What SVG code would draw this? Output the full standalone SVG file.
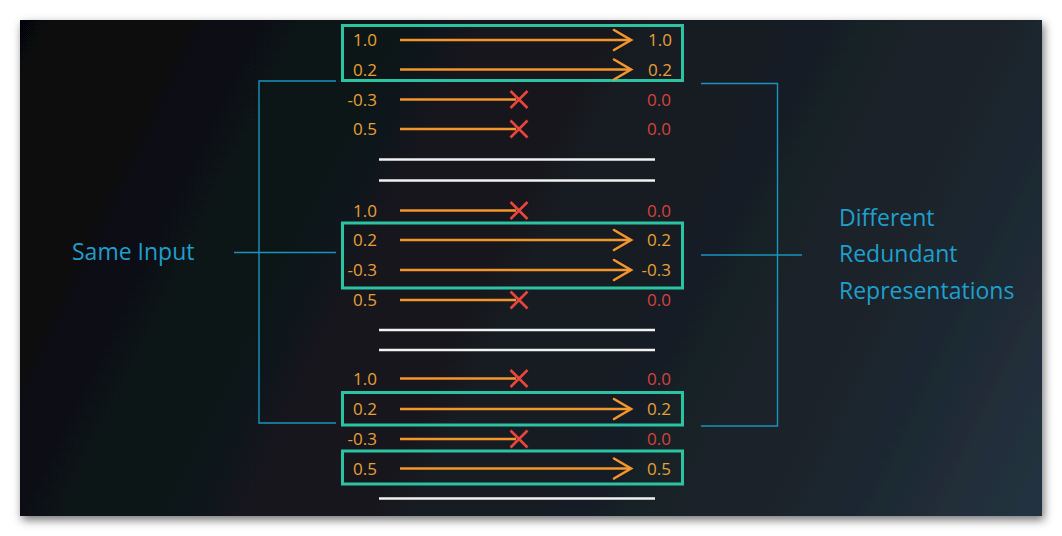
<svg xmlns="http://www.w3.org/2000/svg" width="1062" height="536" viewBox="0 0 1062 536">
<defs>
<linearGradient id="bg" gradientUnits="userSpaceOnUse" x1="20" y1="20" x2="1042" y2="516">
<stop offset="0" stop-color="#060607"/>
<stop offset="0.19" stop-color="#0e1115"/>
<stop offset="0.5" stop-color="#151a20"/>
<stop offset="0.81" stop-color="#1c252d"/>
<stop offset="1" stop-color="#243341"/>
</linearGradient>
<filter id="sh" x="-5%" y="-5%" width="110%" height="115%">
<feDropShadow dx="2" dy="4" stdDeviation="5" flood-color="#000" flood-opacity="0.55"/>
</filter>
<marker id="chev" markerUnits="userSpaceOnUse" viewBox="-20 -13 23 26" refX="0" refY="0" markerWidth="23" markerHeight="26" orient="auto">
<path d="M-17,-10 L0,0 L-17,10" fill="none" stroke="#f5962c" stroke-width="2.6" stroke-linecap="round" stroke-linejoin="miter"/>
</marker>
<path id="xm" d="M-8.5,-8.5 L8.5,8.5 M-8.5,8.5 L8.5,-8.5" fill="none" stroke="#e8453c" stroke-width="2.6"/>
</defs>
<style>
.num{font-family:"Open Sans","Liberation Sans",sans-serif;font-size:17px;fill:#e8a038}
.l{text-anchor:end}
.red{fill:#d8423c}
.lbl{font-family:"Open Sans","Liberation Sans",sans-serif;font-size:23px;fill:#1f9fcc}
.arr{stroke:#f5962c;stroke-width:2.6;fill:none}
.box{fill:none;stroke:#2cc3a3;stroke-width:3}
.sep{stroke:#f2f2f2;stroke-width:2.5}
.br{fill:none;stroke:#1a93bd;stroke-width:1.4}
</style>
<rect width="1062" height="536" fill="#ffffff"/>
<rect x="20" y="20" width="1022" height="496" fill="url(#bg)" filter="url(#sh)"/>

<g id="connectors">
<path class="br" d="M336,81 H259 V423 H336 M234,252.5 H336"/>
<path class="br" d="M701,83.5 H777.5 V426 H701 M701,255 H802"/>
</g>

<g id="label-same-input">
<text class="lbl" x="72" y="259.5">Same Input</text>
</g>
<g id="label-different">
<text class="lbl" x="839" y="225.5">Different</text>
<text class="lbl" x="839" y="262">Redundant</text>
<text class="lbl" x="839" y="298.5">Representations</text>
</g>

<g id="set1">
<rect class="box" x="342.5" y="25.5" width="340" height="55"/>
<text class="num l" x="377" y="46">1.0</text><line class="arr" x1="400" y1="40" x2="631" y2="40" marker-end="url(#chev)"/><text class="num l" x="672" y="46">1.0</text>
<text class="num l" x="377" y="75.5">0.2</text><line class="arr" x1="400" y1="69.5" x2="631" y2="69.5" marker-end="url(#chev)"/><text class="num l" x="672" y="75.5">0.2</text>
<text class="num l" x="377" y="105.5">-0.3</text><line class="arr" x1="400" y1="99.5" x2="516" y2="99.5"/><use href="#xm" x="519" y="99.5"/><text class="num l red" x="671" y="105.5">0.0</text>
<text class="num l" x="377" y="135">0.5</text><line class="arr" x1="400" y1="129" x2="516" y2="129"/><use href="#xm" x="519" y="129"/><text class="num l red" x="671" y="135">0.0</text>
<line class="sep" x1="379" y1="159.5" x2="655" y2="159.5"/>
<line class="sep" x1="379" y1="180.5" x2="655" y2="180.5"/>
</g>

<g id="set2">
<rect class="box" x="342.5" y="223" width="340" height="65"/>
<text class="num l" x="377" y="216.5">1.0</text><line class="arr" x1="400" y1="210.5" x2="516" y2="210.5"/><use href="#xm" x="519" y="210.5"/><text class="num l red" x="671" y="216.5">0.0</text>
<text class="num l" x="377" y="246">0.2</text><line class="arr" x1="400" y1="240" x2="631" y2="240" marker-end="url(#chev)"/><text class="num l" x="671" y="246">0.2</text>
<text class="num l" x="377" y="276">-0.3</text><line class="arr" x1="400" y1="270" x2="631" y2="270" marker-end="url(#chev)"/><text class="num l" x="671" y="276">-0.3</text>
<text class="num l" x="377" y="306">0.5</text><line class="arr" x1="400" y1="300" x2="516" y2="300"/><use href="#xm" x="519" y="300"/><text class="num l red" x="671" y="306">0.0</text>
<line class="sep" x1="379" y1="330" x2="655" y2="330"/>
<line class="sep" x1="379" y1="350" x2="655" y2="350"/>
</g>

<g id="set3">
<rect class="box" x="342.5" y="392.5" width="340" height="32.5"/>
<rect class="box" x="342.5" y="451" width="340" height="33"/>
<text class="num l" x="377" y="384.5">1.0</text><line class="arr" x1="400" y1="378.5" x2="516" y2="378.5"/><use href="#xm" x="519" y="378.5"/><text class="num l red" x="671" y="384.5">0.0</text>
<text class="num l" x="377" y="415">0.2</text><line class="arr" x1="400" y1="409" x2="631" y2="409" marker-end="url(#chev)"/><text class="num l" x="671" y="415">0.2</text>
<text class="num l" x="377" y="445">-0.3</text><line class="arr" x1="400" y1="439" x2="516" y2="439"/><use href="#xm" x="519" y="439"/><text class="num l red" x="671" y="445">0.0</text>
<text class="num l" x="377" y="474.5">0.5</text><line class="arr" x1="400" y1="468.5" x2="631" y2="468.5" marker-end="url(#chev)"/><text class="num l" x="671" y="474.5">0.5</text>
<line class="sep" x1="379" y1="498.5" x2="655" y2="498.5"/>
</g>
</svg>
